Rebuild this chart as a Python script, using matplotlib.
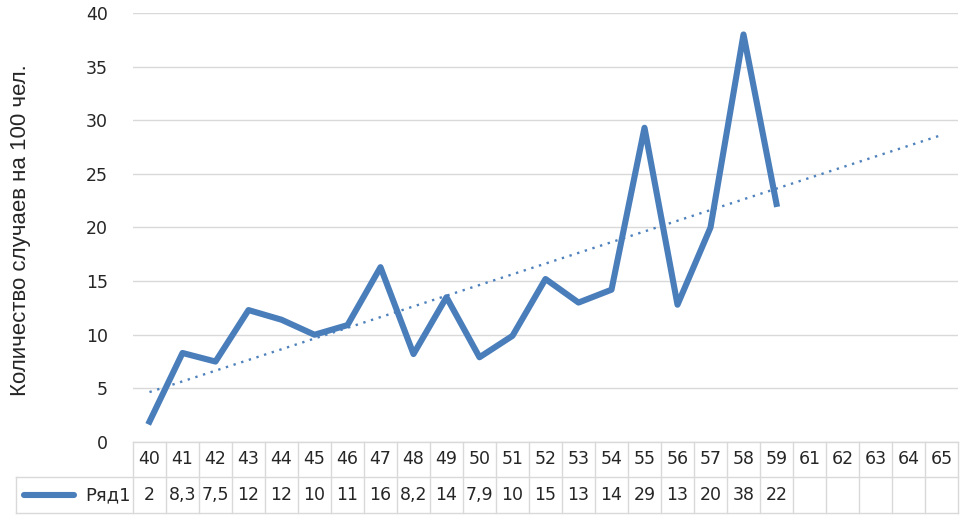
import matplotlib.pyplot as plt
import matplotlib.transforms as mtransforms
import numpy as np

plt.rcParams['font.family'] = ['DejaVu Sans']

# категории (возраст) и значения ряда
ages = ['40', '41', '42', '43', '44', '45', '46', '47', '48', '49', '50', '51',
        '52', '53', '54', '55', '56', '57', '58', '59', '61', '62', '63', '64', '65']
values = [1.9, 8.3, 7.5, 12.3, 11.4, 10.0, 10.9, 16.3, 8.2, 13.5, 7.9, 9.9,
          15.2, 13.0, 14.2, 29.3, 12.8, 20.0, 38.0, 22.2]
table_labels = ['2', '8,3', '7,5', '12', '12', '10', '11', '16', '8,2', '14', '7,9', '10',
                '15', '13', '14', '29', '13', '20', '38', '22']
series_name = 'Ряд1'
ylabel = 'Количество случаев на 100 чел.'

line_color = '#4a7ebb'
trend_color = '#4f82bd'
grid_color = '#d9d9d9'
text_color = '#262626'

fig = plt.figure(figsize=(9.68, 5.25), dpi=100)
ax = fig.add_axes([133 / 968, 1 - 442 / 525, 825 / 968, 429 / 525])

x = np.arange(len(values))
ax.plot(x, values, color=line_color, lw=4.4, solid_joinstyle='round', zorder=3)

# линейный тренд с прогнозом до конца оси
k, b = np.polyfit(x + 1, values, 1)
xt = np.arange(len(ages))
ax.plot(xt, k * (xt + 1) + b, color=trend_color, lw=1.7, ls=(0, (1, 2.4)), zorder=2)

ax.set_xlim(-0.5, len(ages) - 0.5)
ax.set_ylim(0, 40)
ax.set_yticks(np.arange(0, 41, 5))
ax.yaxis.grid(True, color=grid_color, lw=1)
ax.set_axisbelow(True)
ax.tick_params(axis='y', length=0, pad=18, labelsize=12.5, labelcolor=text_color)
ax.set_xticks([])
for s in ax.spines.values():
    s.set_visible(False)
ax.set_ylabel(ylabel, fontsize=16, color=text_color, family='Liberation Sans')
ax.yaxis.set_label_coords(-0.124, 0.495)

# таблица данных под графиком
tr = mtransforms.blended_transform_factory(ax.transData, ax.transAxes)
r1 = -35 / 429
r2 = -71 / 429
leg_left = -4.05
n = len(ages)
kw = dict(transform=tr, color=grid_color, lw=1, clip_on=False)
ax.plot([-0.5, n - 0.5], [0, 0], **kw)
ax.plot([leg_left, n - 0.5], [r1, r1], **kw)
ax.plot([leg_left, n - 0.5], [r2, r2], **kw)
ax.plot([leg_left, leg_left], [r1, r2], **kw)
for i in range(n + 1):
    ax.plot([i - 0.5, i - 0.5], [0, r2], **kw)
for i, a in enumerate(ages):
    ax.text(i, r1 / 2, a, transform=tr, ha='center', va='center',
            fontsize=12.5, color=text_color)
for i, t in enumerate(table_labels):
    ax.text(i, (r1 + r2) / 2, t, transform=tr, ha='center', va='center',
            fontsize=12.5, color=text_color)
ym = (r1 + r2) / 2
ax.plot([-3.8, -2.3], [ym, ym], transform=tr, color=line_color, lw=4.4,
        solid_capstyle='round', clip_on=False)
ax.text(-0.58, ym, series_name, transform=tr, ha='right', va='center',
        fontsize=13, color=text_color)

fig.savefig('out.png', dpi=100)
